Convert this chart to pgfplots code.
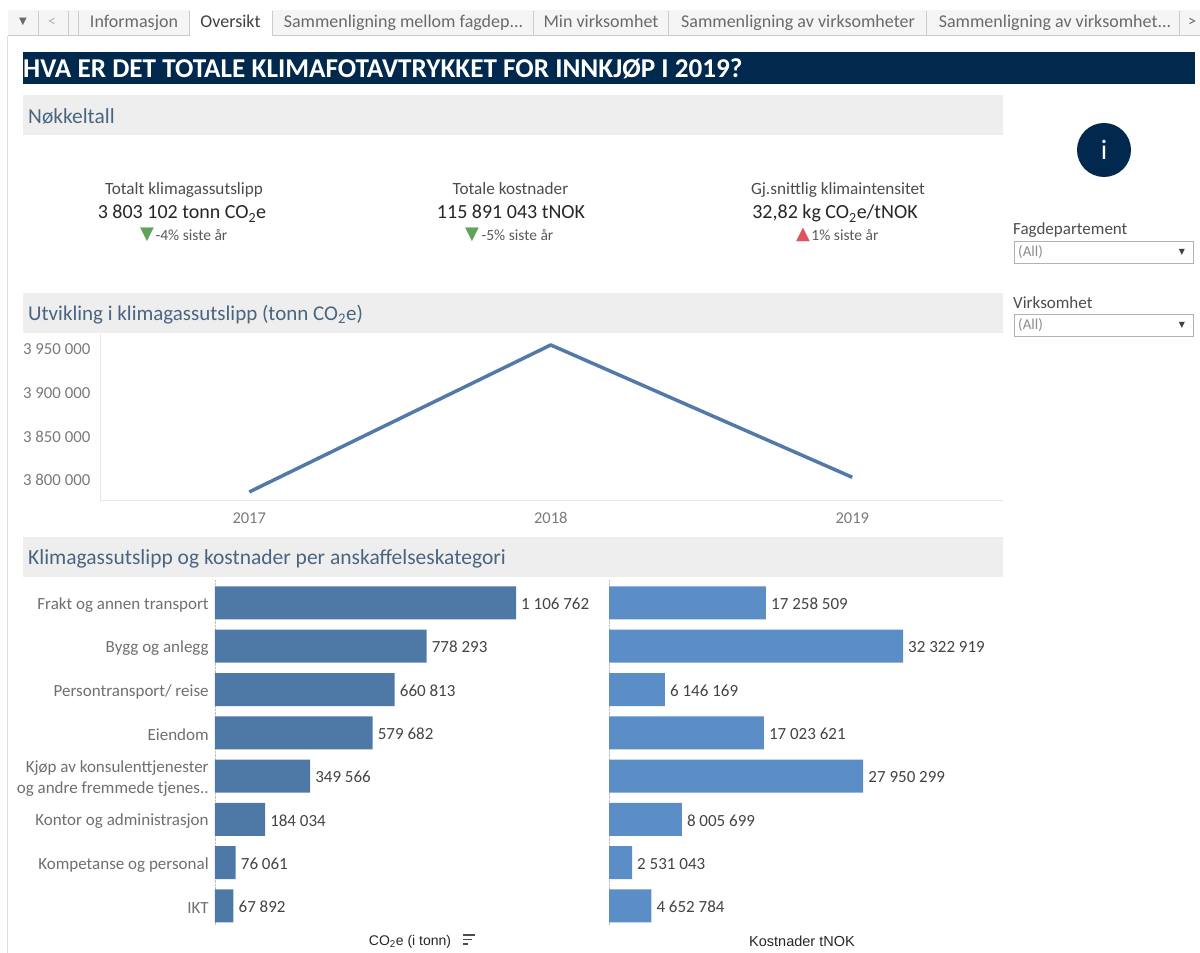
\documentclass[border=0pt]{standalone}
\usepackage{fontspec}
\setmainfont{Carlito}
\newfontfamily\dejavu{DejaVu Sans}
\newfontfamily\arial{Liberation Sans}
\usepackage{pgfplots}
\pgfplotsset{compat=1.18}
\definecolor{navy}{HTML}{00294D}
\definecolor{band}{HTML}{EEEEEE}
\definecolor{bandtext}{HTML}{4A6580}
\definecolor{barone}{HTML}{4E79A7}
\definecolor{bartwo}{HTML}{5B8EC6}
\definecolor{linecol}{HTML}{5279A8}
\definecolor{ticktext}{HTML}{7A7A7A}
\definecolor{cattext}{HTML}{6F6F6F}
\definecolor{valtext}{HTML}{444444}
\definecolor{tabtext}{HTML}{6A6A6A}
\definecolor{axisfaint}{HTML}{E6E6E6}
\definecolor{downgreen}{HTML}{5FA35C}
\definecolor{upred}{HTML}{E2525C}
\newcommand{\fs}[1]{\fontsize{#1}{#1}\selectfont}
\newcommand{\cotwo}{CO\textsubscript{2}e}
\pgfplotsset{
  barpanel/.style={
    xbar, scale only axis, y dir=reverse,
    axis x line=none, axis y line=left,
    axis line style={-, draw=lightgray, densely dotted},
    ymin=-0.53, ymax=7.44, xmin=0,
    bar width=33pt,
    tick style={draw=none},
    point meta=explicit symbolic,
    nodes near coords,
    every node near coord/.append style={font=\fs{17}, text=valtext, inner sep=0pt, anchor=west, xshift=5pt, yshift=-1pt},
  },
}
\begin{document}
\begin{tikzpicture}
\useasboundingbox (0,0) rectangle (1200pt,953pt);
\begin{scope}[x=1pt,y=-1pt,shift={(0pt,953pt)}]
  % tab strip
  \fill[black!4] (8,10) rectangle (1200,35);
  \draw[black!20] (8,35) -- (1200,35);
  \fill[white] (190,10) rectangle (272,36);
  \foreach \s in {38,68,78,189,272,533,668,926,1179}
    \draw[black!20] (\s,11) -- (\s,35);
  \draw[black!12] (7,36) -- (7,953);
  \node[text=tabtext,font=\dejavu\fs{10}] at (23,22) {▼};
  \node[text=black!30,font=\fs{16}] at (52,22) {<};
  \node[text=black!60,font=\fs{16}] at (1192,22) {>};
  \foreach \x/\t in {134/Informasjon,403.5/{Sammenligning mellom fagdep...},601/Min virksomhet,798/Sammenligning av virksomheter,1055/{Sammenligning av virksomhet...}}
    \node[anchor=base,inner sep=0pt,text=tabtext,font=\fs{18}] at (\x,27.5) {\t};
  \node[anchor=base,inner sep=0pt,text=black!75,font=\fs{18}] at (230.5,27.5) {Oversikt};
  % title and section bands
  \fill[navy] (23,52) rectangle (1195,84);
  \node[anchor=west,inner sep=0pt,text=white,font=\bfseries\fs{27.2}] at (23,69) {HVA ER DET TOTALE KLIMAFOTAVTRYKKET FOR INNKJØP I 2019?};
  \foreach \a/\s/\t in {95/21.4/Nøkkeltall,293/21/{Utvikling i klimagassutslipp (tonn \cotwo)},537/21.5/Klimagassutslipp og kostnader per anskaffelseskategori}{
    \fill[band] (23,\a) rectangle (1003,\a+40);
    \node[anchor=west,inner sep=0pt,text=bandtext,font=\fs{\s}] at (28,\a+21.5) {\t};
  }
  % key figures
  \node[anchor=base,text=black!70,font=\fs{17.2}] at (184,194.5) {Totalt klimagassutslipp};
  \node[anchor=base,text=black!85,font=\fs{20}] at (182,219) {3 803 102 tonn \cotwo};
  \node[text=black!65,font=\fs{15.5},inner sep=0pt] at (191.5,235) {-4\% siste år};
  \node[text=downgreen,font=\dejavu\fs{18},inner sep=0pt] at (147,235) {▼};
  \node[anchor=base,text=black!70,font=\fs{17.2}] at (510.5,194.5) {Totale kostnader};
  \node[anchor=base,text=black!85,font=\fs{20}] at (511,219) {115 891 043 tNOK};
  \node[text=black!65,font=\fs{15.5},inner sep=0pt] at (517.5,235) {-5\% siste år};
  \node[text=downgreen,font=\dejavu\fs{18},inner sep=0pt] at (472,235) {▼};
  \node[anchor=base,text=black!70,font=\fs{17.2}] at (838,194.5) {Gj.snittlig klimaintensitet};
  \node[anchor=base,text=black!85,font=\fs{20}] at (835,219) {32,82 kg \cotwo/tNOK};
  \node[text=black!65,font=\fs{15.5},inner sep=0pt] at (845,235) {1\% siste år};
  \node[text=upred,font=\dejavu\fs{18},inner sep=0pt] at (803,235) {▲};
  % info button
  \node[circle,fill=navy,minimum size=54pt,inner sep=0pt,text=white,font=\fs{28}] at (1104,150) {i};
  % filters
  \foreach \a/\t in {230/Fagdepartement,303/Virksomhet}{
    \node[anchor=west,inner sep=0pt,text=black!70,font=\fs{17}] at (1013,\a) {\t};
    \draw[black!30,fill=white] (1014,\a+11) rectangle (1193,\a+33);
    \node[anchor=west,inner sep=0pt,text=black!45,font=\fs{15}] at (1018,\a+22.5) {(All)};
    \node[text=black!75,font=\dejavu\fs{8}] at (1182,\a+22.5) {▼};
  }
  % bar panel captions
  \node[text=black!85,font=\arial\fs{14}] at (410,941.5) {CO\textsubscript{2}e (i tonn)};
  \draw[black!70,line width=1.4pt] (463,935) -- (475,935) (463,939.5) -- (472,939.5) (463,944) -- (468,944);
  \node[text=black!85,font=\arial\fs{14.5}] at (802,941.5) {Kostnader tNOK};
\end{scope}

% yearly emissions line
\begin{axis}[
  at={(100pt,453pt)}, anchor=south west, scale only axis,
  width=903pt, height=166pt,
  xmin=2016.505, xmax=2019.5,
  ymin=3777100, ymax=3967170,
  axis x line=bottom, axis y line=left,
  axis line style={-, draw=axisfaint},
  tick style={draw=none},
  xtick={2017,2018,2019},
  ytick={3800000,3850000,3900000,3950000},
  scaled y ticks=false,
  /pgf/number format/assume math mode=true,
  /pgf/number format/1000 sep={},
  xticklabel style={font=\fs{16.5}, text=ticktext, yshift=-7pt},
  yticklabels={3 800 000,3 850 000,3 900 000,3 950 000},
  yticklabel style={font=\fs{16.8}, text=ticktext, xshift=-4pt},
]
\addplot[color=linecol, line width=3.5pt, line join=round] coordinates {
  (2017,3786300) (2018,3954600) (2019,3803102)
};
\end{axis}

% CO2e per category
\begin{axis}[
  barpanel,
  at={(215pt,28pt)}, anchor=south west,
  width=385pt, height=345pt,
  xmax=1415620,
  ytick={0,...,7},
  yticklabels={Frakt og annen transport,Bygg og anlegg,Persontransport/ reise,Eiendom,{Kjøp av konsulenttjenester\\og andre fremmede tjenes..},Kontor og administrasjon,Kompetanse og personal,IKT},
  yticklabel style={font=\fontsize{17}{21}\selectfont, text=cattext, align=right, inner sep=0pt, xshift=-4pt, yshift=-2pt},
]
\addplot[draw=none, fill=barone] coordinates {
  (1106762,0) [1 106 762]
  (778293,1) [778 293]
  (660813,2) [660 813]
  (579682,3) [579 682]
  (349566,4) [349 566]
  (184034,5) [184 034]
  (76061,6) [76 061]
  (67892,7) [67 892]
};
\end{axis}

% cost per category
\begin{axis}[
  barpanel,
  at={(609pt,28pt)}, anchor=south west,
  width=394pt, height=345pt,
  xmax=43317000,
  ytick=\empty,
]
\addplot[draw=none, fill=bartwo] coordinates {
  (17258509,0) [17 258 509]
  (32322919,1) [32 322 919]
  (6146169,2) [6 146 169]
  (17023621,3) [17 023 621]
  (27950299,4) [27 950 299]
  (8005699,5) [8 005 699]
  (2531043,6) [2 531 043]
  (4652784,7) [4 652 784]
};
\end{axis}
\end{tikzpicture}
\end{document}
